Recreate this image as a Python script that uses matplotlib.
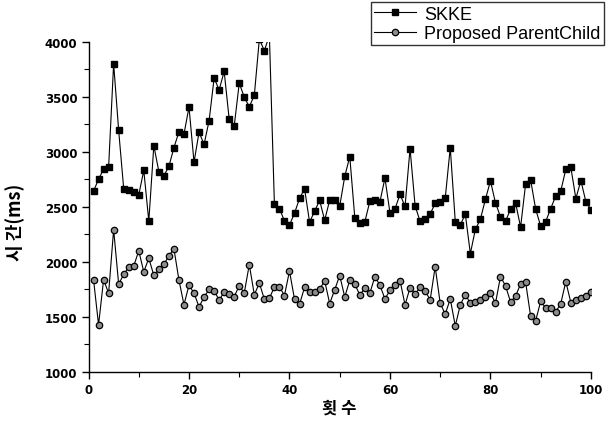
import matplotlib
matplotlib.use("Agg")
import matplotlib.pyplot as plt
from matplotlib.ticker import MultipleLocator

runs = list(range(1, 101))

skke = [2645, 2752, 2845, 2862, 3803, 3196, 2668, 2655, 2635, 2610,
        2833, 2371, 3058, 2822, 2784, 2869, 3040, 3182, 3163, 3408,
        2907, 3180, 3069, 3284, 3672, 3565, 3732, 3298, 3236, 3626,
        3499, 3411, 3515, 4025, 3921, 4060, 2524, 2485, 2374, 2337,
        2443, 2578, 2667, 2362, 2462, 2560, 2380, 2561, 2561, 2508,
        2778, 2958, 2403, 2359, 2365, 2553, 2565, 2547, 2763, 2447,
        2483, 2615, 2505, 3031, 2511, 2369, 2392, 2437, 2532, 2548,
        2580, 3040, 2366, 2339, 2433, 2077, 2296, 2389, 2570, 2737,
        2538, 2410, 2371, 2480, 2538, 2317, 2710, 2746, 2480, 2326,
        2368, 2486, 2601, 2646, 2842, 2860, 2577, 2740, 2547, 2477]

parent_child = [1840, 1428, 1840, 1716, 2295, 1798, 1888, 1952, 1964, 2101,
                1911, 2034, 1878, 1932, 1978, 2057, 2121, 1835, 1612, 1789,
                1717, 1592, 1681, 1750, 1737, 1655, 1726, 1705, 1685, 1784,
                1719, 1976, 1702, 1808, 1662, 1671, 1773, 1775, 1695, 1918,
                1662, 1615, 1770, 1728, 1728, 1752, 1830, 1622, 1748, 1877,
                1682, 1834, 1798, 1701, 1761, 1716, 1868, 1789, 1664, 1743,
                1795, 1831, 1610, 1767, 1707, 1770, 1737, 1655, 1956, 1625,
                1525, 1664, 1419, 1610, 1704, 1625, 1637, 1652, 1680, 1719,
                1625, 1868, 1783, 1637, 1689, 1801, 1816, 1507, 1467, 1643,
                1582, 1582, 1546, 1622, 1822, 1631, 1655, 1677, 1695, 1725]

series_names = ["SKKE", "Proposed ParentChild"]
x_label = "횟 수"
y_label = "시 간(ms)"

fig = plt.figure(figsize=(6.13, 4.27), dpi=100)
ax = fig.add_axes([0.1444, 0.1265, 0.8196, 0.7728])

ax.plot(runs, skke, color="black", lw=0.8, marker="s", ms=5,
        mfc="black", mec="black", label=series_names[0])
ax.plot(runs, parent_child, color="black", lw=0.8, marker="o", ms=4.6,
        mfc="#8c8c8c", mec="black", mew=0.9, label=series_names[1])

ax.set_xlim(0, 100)
ax.set_ylim(1000, 4000)
ax.xaxis.set_major_locator(MultipleLocator(20))
ax.xaxis.set_minor_locator(MultipleLocator(10))
ax.yaxis.set_major_locator(MultipleLocator(500))
ax.yaxis.set_minor_locator(MultipleLocator(250))

for s in ["top", "right"]:
    ax.spines[s].set_visible(False)
for s in ["left", "bottom"]:
    ax.spines[s].set_linewidth(1.0)

ax.tick_params(axis="both", which="major", direction="out", length=5, width=1,
               labelsize=8.5, pad=3)
ax.tick_params(axis="both", which="minor", direction="out", length=3.5, width=0.8)
for lab in ax.get_xticklabels() + ax.get_yticklabels():
    lab.set_fontfamily("DejaVu Sans")
    lab.set_fontweight("bold")

ax.set_xlabel(x_label, family=["Noto Sans CJK KR", "DejaVu Sans"],
              fontsize=12, fontweight="bold", va="center")
ax.xaxis.set_label_coords(0.5, -0.108)
ax.set_ylabel(y_label, family=["Noto Sans CJK KR", "DejaVu Sans"],
              fontsize=13, fontweight="bold", va="center")
ax.yaxis.set_label_coords(-0.145, 0.455)

leg = ax.legend(loc="upper right", bbox_to_anchor=(1.026, 1.121),
                prop={"family": "Liberation Sans", "size": 13},
                frameon=True, fancybox=False, edgecolor="black",
                handlelength=2.3, handletextpad=0.45, borderpad=0.2,
                labelspacing=0.12, borderaxespad=0, numpoints=1)
leg.get_frame().set_linewidth(1.0)

fig.savefig("out.png", dpi=100)
